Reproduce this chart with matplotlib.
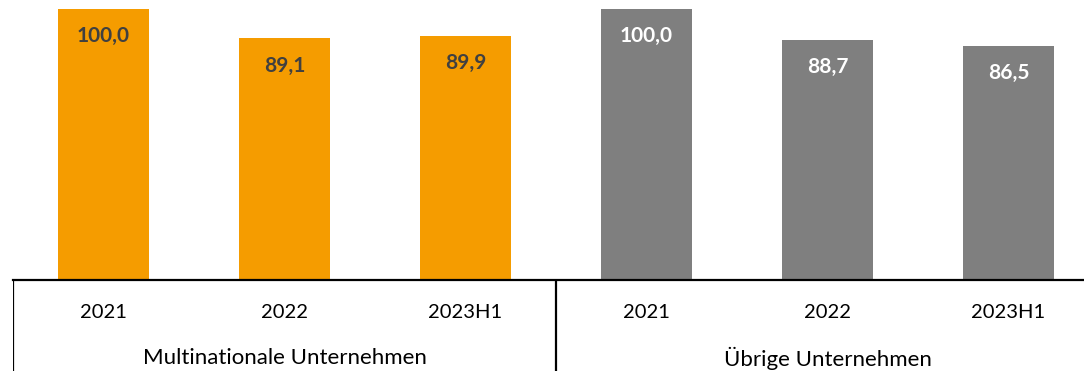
import matplotlib.pyplot as plt

groups = ['Multinationale Unternehmen', 'Übrige Unternehmen']
periods = ['2021', '2022', '2023H1']
multinational = [100.0, 89.1, 89.9]
others = [100.0, 88.7, 86.5]

ORANGE = '#F59C00'
GREY = '#7F7F7F'


def fmt(v):
    return f"{v:.1f}".replace('.', ',')


def main():
    plt.rcParams['font.family'] = ['Lato', 'DejaVu Sans']
    W, H = 1084, 371
    fig = plt.figure(figsize=(W / 100, H / 100), dpi=100)

    # axes runs past the right edge like in the original screenshot
    left, width = 13 / W, 1086 / W
    bottom = 91 / H
    ax = fig.add_axes([left, bottom, width, 1 - bottom])
    tab = fig.add_axes([left, 0, width, bottom])

    values = multinational + others
    colors = [ORANGE] * len(multinational) + [GREY] * len(others)
    xs = list(range(len(values)))
    ax.bar(xs, values, width=91 / 181, color=colors)
    ax.set_xlim(-0.5, len(values) - 0.5)
    ax.set_ylim(0, 103.3)

    for x, v, c in zip(xs, values, colors):
        txt_color = '#404040' if c == ORANGE else 'white'
        ax.annotate(fmt(v), (x, v), xytext=(0, -27), textcoords='offset pixels',
                    ha='center', va='center', fontsize=15, fontweight='bold',
                    color=txt_color)

    for s in ['top', 'right', 'left']:
        ax.spines[s].set_visible(False)
    ax.spines['bottom'].set_linewidth(1.6)
    ax.set_xticks([])
    ax.set_yticks([])

    # category table under the bars
    tab.set_xlim(-0.5, len(values) - 0.5)
    tab.set_ylim(0, 1)
    tab.axis('off')
    for xv in [-0.5, 2.5, 5.5]:
        tab.axvline(xv, color='black', lw=1.6)
    labels = periods + periods
    for x, lab in zip(xs, labels):
        tab.text(x, 1 - 32 / 91, lab, ha='center', va='center', fontsize=14.5)
    for i, g in enumerate(groups):
        tab.text(i * 3 + 1, 1 - 78 / 91, g, ha='center', va='center', fontsize=16)

    fig.savefig('out.png', dpi=100)


if __name__ == '__main__':
    main()
